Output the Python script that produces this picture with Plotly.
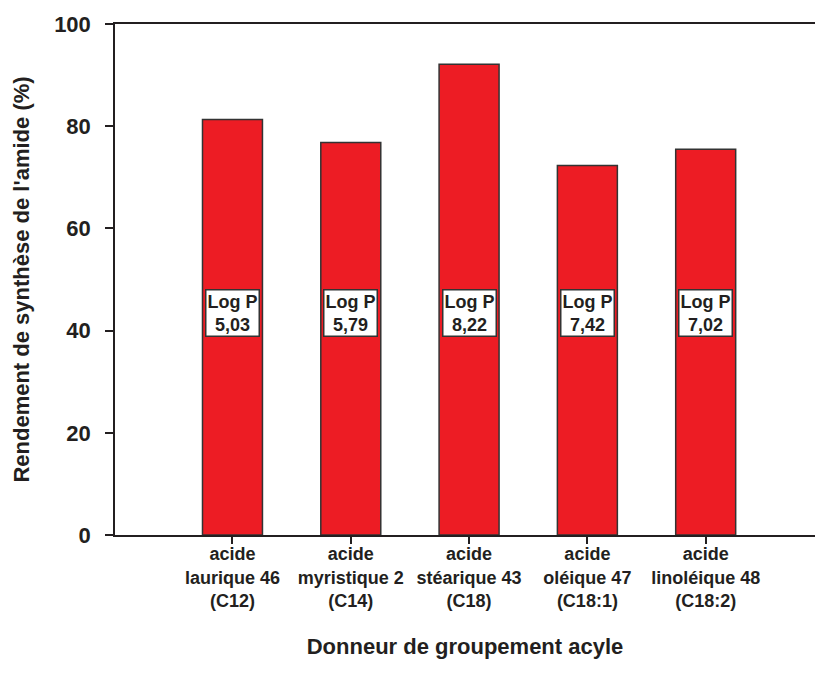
import plotly.graph_objects as go

# data
categories = [
    "acide<br>laurique 46<br>(C12)",
    "acide<br>myristique 2<br>(C14)",
    "acide<br>stéarique 43<br>(C18)",
    "acide<br>oléique 47<br>(C18:1)",
    "acide<br>linoléique 48<br>(C18:2)",
]
rendement = [81.3, 76.8, 92.1, 72.3, 75.5]
log_p = ["5,03", "5,79", "8,22", "7,42", "7,02"]
y_ticks = [0, 20, 40, 60, 80, 100]

ink = "#231F20"
font_family = "Arial, Liberation Sans, sans-serif"

fig = go.Figure()
fig.add_trace(go.Bar(
    x=list(range(len(categories))),
    y=rendement,
    width=0.507,
    marker=dict(color="#ED1C24", line=dict(color="#333333", width=1.5)),
    showlegend=False,
))

# Log P boxes inside the bars
for i, lp in enumerate(log_p):
    fig.add_annotation(
        x=i, y=43.5, xref="x", yref="y",
        text=f"<b>Log P<br>{lp}</b>",
        showarrow=False,
        font=dict(family=font_family, size=18, color=ink),
        bgcolor="white", bordercolor="#333333", borderwidth=1.5, borderpad=1,
    )

fig.update_layout(
    width=815, height=684,
    margin=dict(l=115, r=0, t=24, b=149),
    plot_bgcolor="white", paper_bgcolor="white",
    font=dict(family=font_family, color=ink),
)

fig.update_xaxes(
    range=[-0.993, 4.924],
    tickvals=list(range(len(categories))),
    ticktext=[f"<b>{c}</b>" for c in categories],
    tickfont=dict(size=18, color=ink),
    ticks="outside", ticklen=7, tickcolor=ink, tickwidth=1.5,
    ticklabelstandoff=-5,
    showline=True, linecolor=ink, linewidth=1.5, mirror=True,
    showgrid=False, zeroline=False,
    title=dict(text="<b>Donneur de groupement acyle</b>",
               font=dict(size=22, color=ink), standoff=28),
)

fig.update_yaxes(
    range=[0, 100],
    tickvals=y_ticks,
    ticktext=[f"<b>{v}</b>" for v in y_ticks],
    tickfont=dict(size=22, color=ink),
    ticks="outside", ticklen=8, tickcolor=ink, tickwidth=1.5,
    ticklabelstandoff=10,
    showline=True, linecolor=ink, linewidth=1.5, mirror=False,
    showgrid=False, zeroline=False,
    title=dict(text="<b>Rendement de synthèse de l'amide (%)</b>",
               font=dict(size=22, color=ink), standoff=18),
)

# drop the default page margin so the figure sits at the window origin
fig.write_html("out.html", config={"displayModeBar": False},
               post_script="document.body.style.margin='0px';")
